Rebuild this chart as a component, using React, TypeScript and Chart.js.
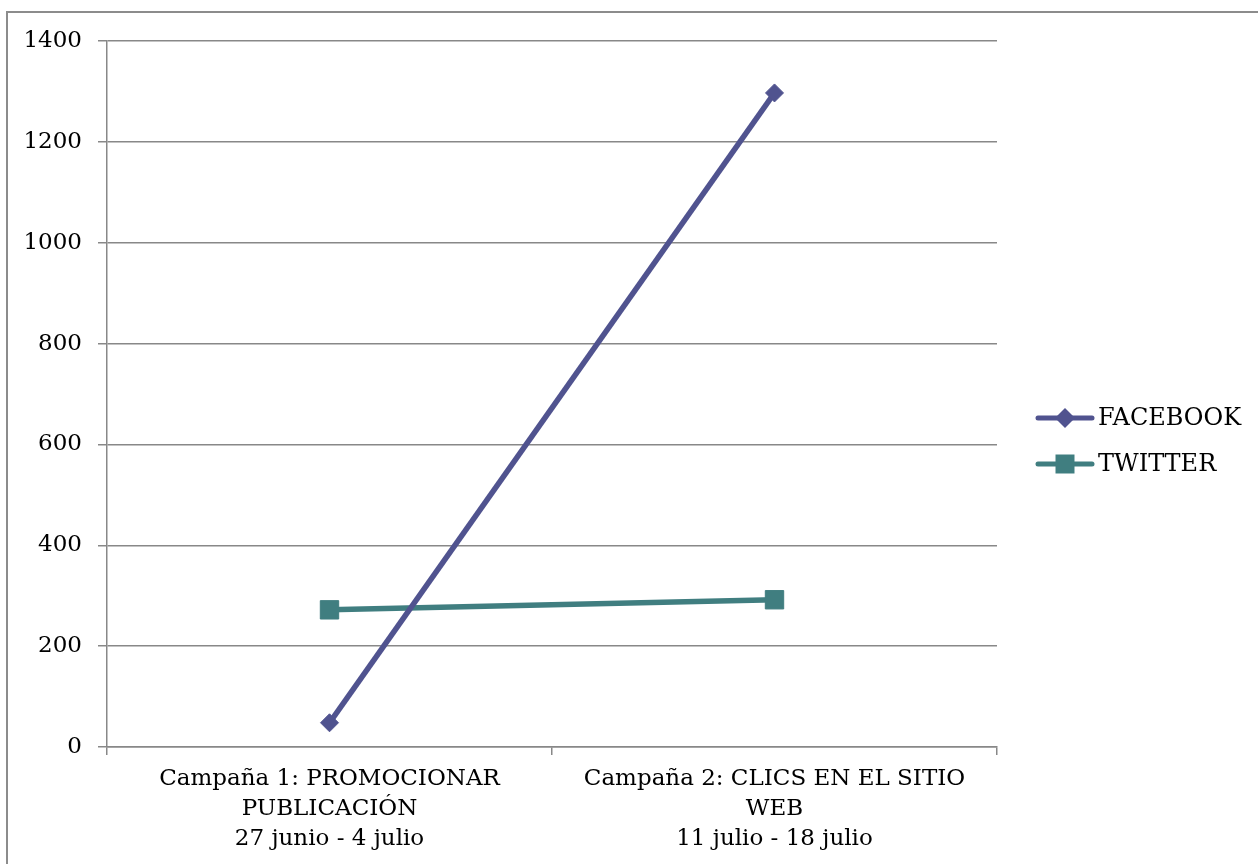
import React, { useEffect, useRef } from "react";
import { Chart, registerables } from "chart.js";

Chart.register(...registerables);

const categories: string[][] = [
  ["Campaña 1: PROMOCIONAR", "PUBLICACIÓN", "27 junio - 4 julio"],
  ["Campaña 2: CLICS EN EL SITIO", "WEB", "11 julio - 18 julio"],
];
const facebookValues = [48, 1297];
const twitterValues = [272, 292];
const seriesNames = ["FACEBOOK", "TWITTER"];
const seriesColors = ["#50538F", "#407E80"];
const seriesMarkers = ["rectRot", "rect"];
const yTicks = { min: 0, max: 1400, step: 200 };

const FONT = "'DejaVu Serif', serif";
const GRID = "#888888";

const legendPlugin = {
  id: "customLegend",
  afterDraw(chart: any) {
    const ctx = chart.ctx as CanvasRenderingContext2D;
    const area = chart.chartArea;
    const x0 = area.right + 41;
    const yStart = 418;
    chart.data.datasets.forEach((ds: any, i: number) => {
      const y = yStart + i * 46;
      ctx.save();
      ctx.strokeStyle = ds.borderColor;
      ctx.lineWidth = 5;
      ctx.lineCap = "round";
      ctx.beginPath();
      ctx.moveTo(x0, y);
      ctx.lineTo(x0 + 54, y);
      ctx.stroke();
      ctx.fillStyle = ds.borderColor;
      const cx = x0 + 27;
      ctx.beginPath();
      if (ds.pointStyle === "rectRot") {
        const r = 10;
        ctx.moveTo(cx, y - r);
        ctx.lineTo(cx + r, y);
        ctx.lineTo(cx, y + r);
        ctx.lineTo(cx - r, y);
        ctx.closePath();
      } else {
        const s = 9.5;
        ctx.rect(cx - s, y - s, 2 * s, 2 * s);
      }
      ctx.fill();
      ctx.fillStyle = "#000";
      ctx.font = `24px ${FONT}`;
      ctx.textBaseline = "middle";
      ctx.textAlign = "left";
      ctx.fillText(ds.label, x0 + 60, y + 1);
      ctx.restore();
    });
  },
};

export default function App() {
  const ref = useRef<HTMLCanvasElement>(null);
  useEffect(() => {
    if (!ref.current) return;
    const chart = new Chart(ref.current, {
      type: "line",
      data: {
        labels: categories,
        datasets: [
          {
            label: seriesNames[0],
            data: facebookValues,
            borderColor: seriesColors[0],
            backgroundColor: seriesColors[0],
            borderWidth: 5.5,
            pointStyle: seriesMarkers[0] as any,
            pointRadius: 9,
            pointBorderWidth: 1,
            tension: 0,
          },
          {
            label: seriesNames[1],
            data: twitterValues,
            borderColor: seriesColors[1],
            backgroundColor: seriesColors[1],
            borderWidth: 5.5,
            pointStyle: seriesMarkers[1] as any,
            pointRadius: 13,
            pointBorderWidth: 1,
            tension: 0,
          },
        ],
      },
      options: {
        animation: false,
        responsive: false,
        maintainAspectRatio: false,
        layout: { padding: { top: 41, right: 261, left: 0, bottom: 0 } },
        plugins: {
          legend: { display: false },
          tooltip: { enabled: false },
          title: { display: false },
        },
        scales: {
          x: {
            type: "category",
            offset: true,
            grid: {
              offset: true,
              drawOnChartArea: false,
              drawTicks: true,
              tickLength: 8,
              color: GRID,
              lineWidth: 1.5,
            },
            border: { display: true, color: GRID, width: 1.5 },
            ticks: {
              color: "#000",
              font: { family: FONT, size: 23, lineHeight: 30 / 23 },
              padding: 9,
              maxRotation: 0,
              autoSkip: false,
            },
            afterFit: (s: any) => {
              s.height = 117;
            },
          },
          y: {
            min: yTicks.min,
            max: yTicks.max,
            ticks: {
              stepSize: yTicks.step,
              color: "#000",
              font: { family: FONT, size: 23 },
              padding: 16,
              callback: (v: any) => String(v),
            },
            grid: { color: GRID, lineWidth: 1.5, tickLength: 9, drawTicks: true },
            border: { display: true, color: GRID, width: 1.5 },
            afterFit: (s: any) => {
              s.width = 107;
            },
          },
        },
      },
      plugins: [legendPlugin],
    });
    return () => chart.destroy();
  }, []);

  return (
    <div
      style={{
        position: "fixed",
        left: 0,
        top: 0,
        width: 1258,
        height: 864,
        overflow: "hidden",
        background: "#fff",
      }}
    >
      <div
        style={{
          position: "absolute",
          left: 6,
          top: 11,
          width: 1400,
          height: 1000,
          border: "2px solid #8c8c8c",
        }}
      />
      <canvas
        ref={ref}
        width={1258}
        height={864}
        style={{ position: "absolute", left: 0, top: 0, width: 1258, height: 864 }}
      />
    </div>
  );
}
